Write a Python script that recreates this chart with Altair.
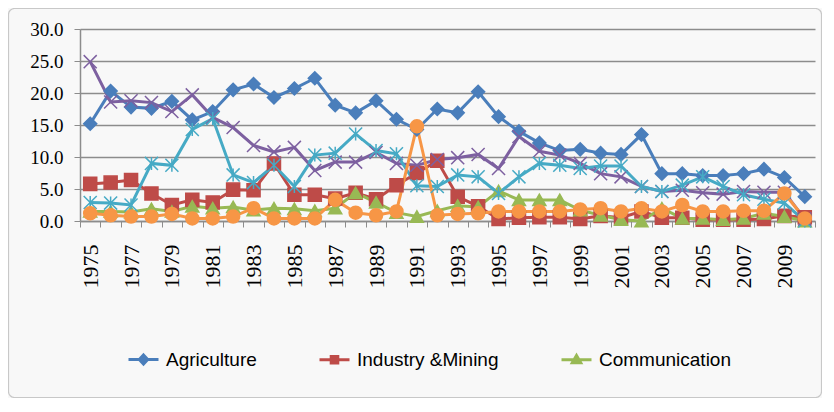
import altair as alt
import pandas as pd

years = list(range(1975, 2011))
series_names = ["Agriculture", "Industry &Mining", "Communication", "Series 4", "Series 5", "Series 6"]

agriculture = [15.2, 20.3, 17.8, 17.6, 18.7, 15.8, 17.1, 20.5, 21.4, 19.3, 20.7, 22.3,
               18.1, 16.9, 18.8, 15.9, 14.3, 17.5, 16.9, 20.2, 16.3, 14.0, 12.2, 11.0,
               11.2, 10.6, 10.4, 13.5, 7.4, 7.4, 7.1, 7.1, 7.4, 8.1, 6.8, 3.8]
industry = [5.8, 6.0, 6.4, 4.3, 2.5, 3.3, 2.9, 4.9, 4.8, 9.0, 4.1, 4.1,
            3.5, 4.4, 3.4, 5.6, 7.5, 9.4, 3.8, 2.3, 0.3, 0.5, 0.6, 0.6,
            0.3, 0.8, 0.5, 1.5, 0.5, 0.5, 0.2, 0.2, 0.2, 0.3, 0.8, 0.6]
communication = [1.5, 1.5, 1.4, 1.9, 1.5, 2.3, 2.0, 2.2, 1.7, 2.0, 1.9, 1.6,
                 2.0, 4.4, 2.9, 1.3, 0.7, 1.6, 2.4, 2.2, 4.7, 3.3, 3.3, 3.3,
                 1.7, 0.9, 0.2, 0.0, 2.0, 0.4, 0.4, 0.2, 0.4, 1.2, 0.7, 0.0]
series4 = [24.9, 18.6, 18.8, 18.5, 17.1, 19.7, 16.2, 14.6, 11.8, 10.8, 11.5, 7.9,
           9.2, 9.2, 10.7, 9.0, 8.7, 9.6, 9.9, 10.4, 8.2, 13.2, 10.9, 10.3,
           9.0, 7.4, 6.9, 5.4, 4.6, 4.8, 4.4, 4.2, 4.6, 4.5, 4.5, 0.3]
series5 = [2.9, 2.8, 2.5, 9.0, 8.7, 14.3, 16.0, 7.2, 6.0, 8.7, 5.4, 10.3,
           10.6, 13.6, 11.0, 10.5, 5.5, 5.4, 7.2, 6.9, 4.3, 6.9, 9.0, 8.7,
           8.2, 8.6, 8.6, 5.4, 4.6, 5.6, 6.9, 5.4, 4.1, 3.4, 2.8, 0.0]
series6 = [1.2, 0.9, 0.7, 0.7, 1.1, 0.4, 0.4, 0.7, 2.0, 0.4, 0.4, 0.4,
           3.3, 1.3, 0.9, 1.5, 14.8, 0.9, 1.1, 1.2, 1.5, 1.5, 1.5, 1.5,
           1.8, 2.0, 1.5, 2.0, 1.5, 2.5, 1.5, 1.5, 1.6, 1.6, 4.3, 0.4]

y_ticks = [0, 5, 10, 15, 20, 25, 30]

colors = ["#4A7EBB", "#BE4B48", "#98B954", "#7D60A0", "#46AAC5", "#F79646"]
marker_shapes = ["diamond", "square", "triangle-up",
                 "M-1,-1L1,1M-1,1L1,-1",
                 "M-1,-1L1,1M-1,1L1,-1M0,-1L0,1",
                 "circle"]
marker_fills = ["#4A7EBB", "#BE4B48", "#98B954", "transparent", "transparent", "#F79646"]

# legend-only entries (trailing space keeps them distinct from the data series)
legend_names = [n + " " for n in series_names[:3]]
legend_shapes = ["M-1,0L1,0M0,-0.3L0.28,0L0,0.3L-0.28,0Z",
                 "M-1,0L1,0M-0.22,-0.22L0.22,-0.22L0.22,0.22L-0.22,0.22Z",
                 "M-1,0L1,0M0,-0.28L0.28,0.2L-0.28,0.2Z"]

all_domain = series_names + legend_names
all_shapes = marker_shapes + legend_shapes
all_fills = marker_fills + colors[:3]
all_strokes = colors + colors[:3]

values = [agriculture, industry, communication, series4, series5, series6]
rows = []
for i, (name, vals) in enumerate(zip(series_names, values)):
    for yr, v in zip(years, vals):
        rows.append({"year": yr, "series": name, "value": v, "k": i})
df = pd.DataFrame(rows)

serif = "Liberation Serif"

x_enc = alt.X(
    "year:O",
    bandPosition=0.5,
    scale=alt.Scale(type="band", paddingInner=0, paddingOuter=0),
    axis=alt.Axis(
        title=None, labelAngle=-90, labelFont=serif, labelFontSize=22,
        labelColor="black", tickBand="extent", tickSize=6, tickColor="#8c8c8c",
        domainColor="#8c8c8c", domainWidth=1.5, labelPadding=17, grid=False,
        labelOverlap=False,
        labelExpr="parseInt(datum.value) % 2 == 1 ? datum.label : ''",
    ),
)
y_enc = alt.Y(
    "value:Q",
    scale=alt.Scale(domain=[0, 30], nice=False),
    axis=alt.Axis(
        title=None, values=y_ticks, format=".1f", labelFont=serif,
        labelFontSize=19, labelColor="black", grid=True, gridColor="#8c8c8c",
        gridWidth=1.5, tickSize=6, tickColor="#8c8c8c", domainColor="#8c8c8c",
        domainWidth=1.5, labelPadding=11,
    ),
)

base = alt.Chart(df)

lines = base.mark_line(strokeWidth=3).encode(
    x=x_enc, y=y_enc,
    color=alt.Color("series:N", scale=alt.Scale(domain=series_names, range=colors), legend=None),
    order="k:Q",
)

shape_scale = alt.Scale(domain=all_domain, range=all_shapes)
fill_scale = alt.Scale(domain=all_domain, range=all_fills)
stroke_scale = alt.Scale(domain=all_domain, range=all_strokes)

leg = alt.Legend(
    title=None, orient="none", legendX=47, legendY=314, direction="horizontal",
    values=legend_names, labelFont="Liberation Sans", labelFontSize=19,
    labelColor="black", symbolStrokeWidth=3, symbolSize=900, columnPadding=56,
    labelOffset=6, padding=0,
)

points = base.mark_point(filled=True, size=170, strokeWidth=1.5, opacity=1).encode(
    x=x_enc, y=y_enc,
    shape=alt.Shape("series:N", scale=shape_scale, legend=leg),
    fill=alt.Fill("series:N", scale=fill_scale, legend=leg),
    stroke=alt.Stroke("series:N", scale=stroke_scale, legend=leg),
)

frame = alt.Chart(pd.DataFrame({"f": [0]})).mark_rect(
    fill="transparent", stroke="#c8c8c8", strokeWidth=1.2, cornerRadius=6
).encode(
    x=alt.value(-71.5), x2=alt.value(741.5), y=alt.value(-20.5), y2=alt.value(368.5)
)

chart = alt.layer(frame, lines, points).properties(
    width=735, height=192,
    autosize=alt.AutoSizeParams(type="none"),
    padding={"left": 72, "top": 21, "right": 7, "bottom": 177},
    background="#f8f8f8",
).configure_view(stroke=None)

chart.save("out.html", embed_options={"renderer": "svg", "actions": False})
